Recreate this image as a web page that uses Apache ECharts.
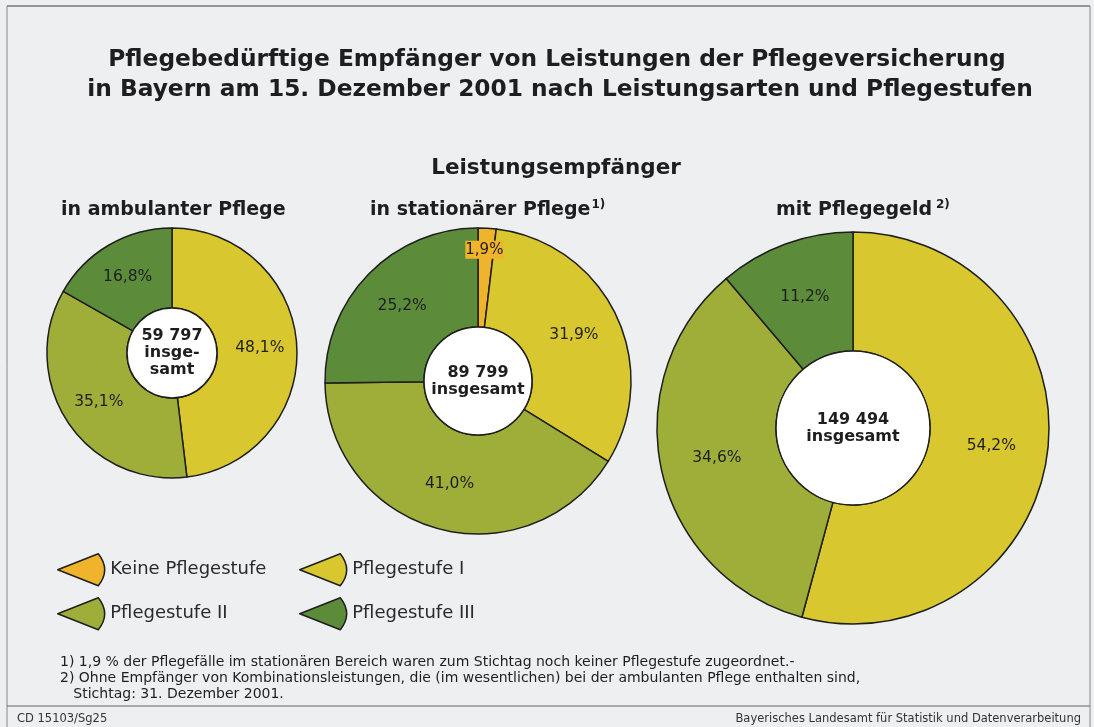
<!DOCTYPE html>
<html>
<head>
<meta charset="utf-8">
<script src="https://cdn.jsdelivr.net/npm/echarts@6/dist/echarts.min.js"></script>
<style>
  html, body { margin: 0; padding: 0; background: #eeeff1; }
  #container { width: 1094px; height: 727px; }
</style>
</head>
<body>
<div id="container"></div>
<script>
// categories (Pflegestufen)
var stufen = ['Keine Pflegestufe', 'Pflegestufe I', 'Pflegestufe II', 'Pflegestufe III'];
var stufeColors = ['#f0b42c', '#d8c72e', '#9fae38', '#5c8c3a'];

// shares in percent per benefit type
var ambulantNames = ['Pflegestufe I', 'Pflegestufe II', 'Pflegestufe III'];
var ambulantShare = [48.1, 35.1, 16.8];
var ambulantTotal = '59 797';

var stationaerNames = ['Keine Pflegestufe', 'Pflegestufe I', 'Pflegestufe II', 'Pflegestufe III'];
var stationaerShare = [1.9, 31.9, 41.0, 25.2];
var stationaerTotal = '89 799';

var geldNames = ['Pflegestufe I', 'Pflegestufe II', 'Pflegestufe III'];
var geldShare = [54.2, 34.6, 11.2];
var geldTotal = '149 494';

var font = '"DejaVu Sans", "Liberation Sans", sans-serif';
var ink = '#1e1e1e';

function colorOf(name) {
    return stufeColors[stufen.indexOf(name)];
}

function fmt(v) {
    return v.toFixed(1).replace('.', ',') + '%';
}

function ring(names, shares, center, radius) {
    var data = [];
    for (var i = 0; i < names.length; i++) {
        var item = {
            name: names[i],
            value: shares[i],
            itemStyle: { color: colorOf(names[i]) }
        };
        if (names[i] === 'Keine Pflegestufe') {
            // small slice: label pushed outwards with an orange box
            item.label = {
                formatter: '{box|' + fmt(shares[i]) + '}\n{gap|}',
                rich: {
                    box: { backgroundColor: '#f0b42c', fontSize: 15, color: ink, fontFamily: font, padding: [2, 0, 1, 0] },
                    gap: { height: 50 }
                }
            };
        }
        data.push(item);
    }
    return {
        type: 'pie',
        center: center,
        radius: radius,
        startAngle: 90,
        clockwise: true,
        avoidLabelOverlap: false,
        silent: true,
        animation: false,
        itemStyle: { borderColor: ink, borderWidth: 1.5 },
        label: {
            position: 'inside',
            formatter: function(p) { return fmt(p.value); },
            fontSize: 15.5,
            color: ink,
            fontFamily: font
        },
        labelLine: { show: false },
        data: data
    };
}

function hole(center, r, text) {
    return {
        type: 'pie',
        center: center,
        radius: [0, r],
        silent: true,
        animation: false,
        itemStyle: { color: '#ffffff', borderColor: ink, borderWidth: 1.5 },
        label: {
            position: 'center',
            formatter: text,
            fontSize: 16,
            fontWeight: 'bold',
            lineHeight: 17,
            color: ink,
            fontFamily: font
        },
        labelLine: { show: false },
        data: [{ value: 1, name: 'insgesamt' }]
    };
}

var legendIcon = 'path://M0,15 L38,0 Q50,15 38,30 Z';
function legendItem(name, left, top) {
    return {
        data: [name],
        left: left,
        top: top,
        selectedMode: false,
        icon: legendIcon,
        itemWidth: 48,
        itemHeight: 32,
        itemGap: 10,
        itemStyle: { borderColor: ink, borderWidth: 1.5 },
        textStyle: { fontSize: 18, color: '#2a2a2a', fontFamily: font }
    };
}

var myChart = echarts.init(document.getElementById('container'));
var option = {
    backgroundColor: '#eeeff1',
    title: [{
        text: 'Pflegebedürftige Empfänger von Leistungen der Pflegeversicherung',
        left: 552,
        top: 43,
        textAlign: 'center',
        textStyle: { fontSize: 23.3, fontWeight: 'bold', color: ink, fontFamily: font }
    }, {
        text: 'in Bayern am 15. Dezember 2001 nach Leistungsarten und Pflegestufen',
        left: 555,
        top: 73,
        textAlign: 'center',
        textStyle: { fontSize: 23.3, fontWeight: 'bold', color: ink, fontFamily: font }
    }, {
        text: 'Leistungsempfänger',
        left: 551,
        top: 152,
        textAlign: 'center',
        textStyle: { fontSize: 21.5, fontWeight: 'bold', color: ink, fontFamily: font }
    }, {
        text: 'in ambulanter Pflege',
        left: 56,
        top: 196,
        textStyle: { fontSize: 19, fontWeight: 'bold', color: ink, fontFamily: font }
    }, {
        text: 'in stationärer Pflege{sup|1)}',
        left: 365,
        top: 194,
        textStyle: {
            fontSize: 19, fontWeight: 'bold', color: ink, fontFamily: font,
            rich: { sup: { fontSize: 12, fontWeight: 'bold', verticalAlign: 'top', padding: [0, 0, 10, 1], color: ink, fontFamily: font } }
        }
    }, {
        text: 'mit Pflegegeld{sup|2)}',
        left: 771,
        top: 194,
        textStyle: {
            fontSize: 19, fontWeight: 'bold', color: ink, fontFamily: font,
            rich: { sup: { fontSize: 12, fontWeight: 'bold', verticalAlign: 'top', padding: [0, 0, 10, 4], color: ink, fontFamily: font } }
        }
    }, {
        text: '1) 1,9 % der Pflegefälle im stationären Bereich waren zum Stichtag noch keiner Pflegestufe zugeordnet.-\n' +
              '2) Ohne Empfänger von Kombinationsleistungen, die (im wesentlichen) bei der ambulanten Pflege enthalten sind,\n' +
              '   Stichtag: 31. Dezember 2001.',
        left: 55,
        top: 649,
        textStyle: { fontSize: 14, fontWeight: 'normal', lineHeight: 16, color: ink, fontFamily: font }
    }, {
        text: 'CD 15103/Sg25',
        left: 12,
        top: 708,
        textStyle: { fontSize: 11.5, fontWeight: 'normal', color: '#333', fontFamily: font }
    }, {
        text: 'Bayerisches Landesamt für Statistik und Datenverarbeitung',
        right: 8,
        top: 708,
        textStyle: { fontSize: 11.5, fontWeight: 'normal', color: '#333', fontFamily: font }
    }],
    legend: [
        legendItem('Keine Pflegestufe', 52, 548),
        legendItem('Pflegestufe I', 294, 548),
        legendItem('Pflegestufe II', 52, 592),
        legendItem('Pflegestufe III', 294, 592)
    ],
    graphic: [
        { type: 'line', shape: { x1: 7, y1: 6, x2: 1090, y2: 6 }, style: { stroke: '#777', lineWidth: 1.5 }, silent: true },
        { type: 'line', shape: { x1: 7, y1: 6, x2: 7, y2: 727 }, style: { stroke: '#888', lineWidth: 1 }, silent: true },
        { type: 'line', shape: { x1: 1090, y1: 6, x2: 1090, y2: 727 }, style: { stroke: '#888', lineWidth: 1 }, silent: true },
        { type: 'line', shape: { x1: 7, y1: 706, x2: 1090, y2: 706 }, style: { stroke: '#666', lineWidth: 1.2 }, silent: true }
    ],
    series: [
        ring(ambulantNames, ambulantShare, [172, 353], [45, 125]),
        hole([172, 353], 45, ambulantTotal + '\ninsge-\nsamt'),
        ring(stationaerNames, stationaerShare, [478, 381], [54, 153]),
        hole([478, 381], 54, stationaerTotal + '\ninsgesamt'),
        ring(geldNames, geldShare, [853, 428], [77, 196]),
        hole([853, 428], 77, geldTotal + '\ninsgesamt')
    ]
};
myChart.setOption(option, true);
</script>
</body>
</html>
